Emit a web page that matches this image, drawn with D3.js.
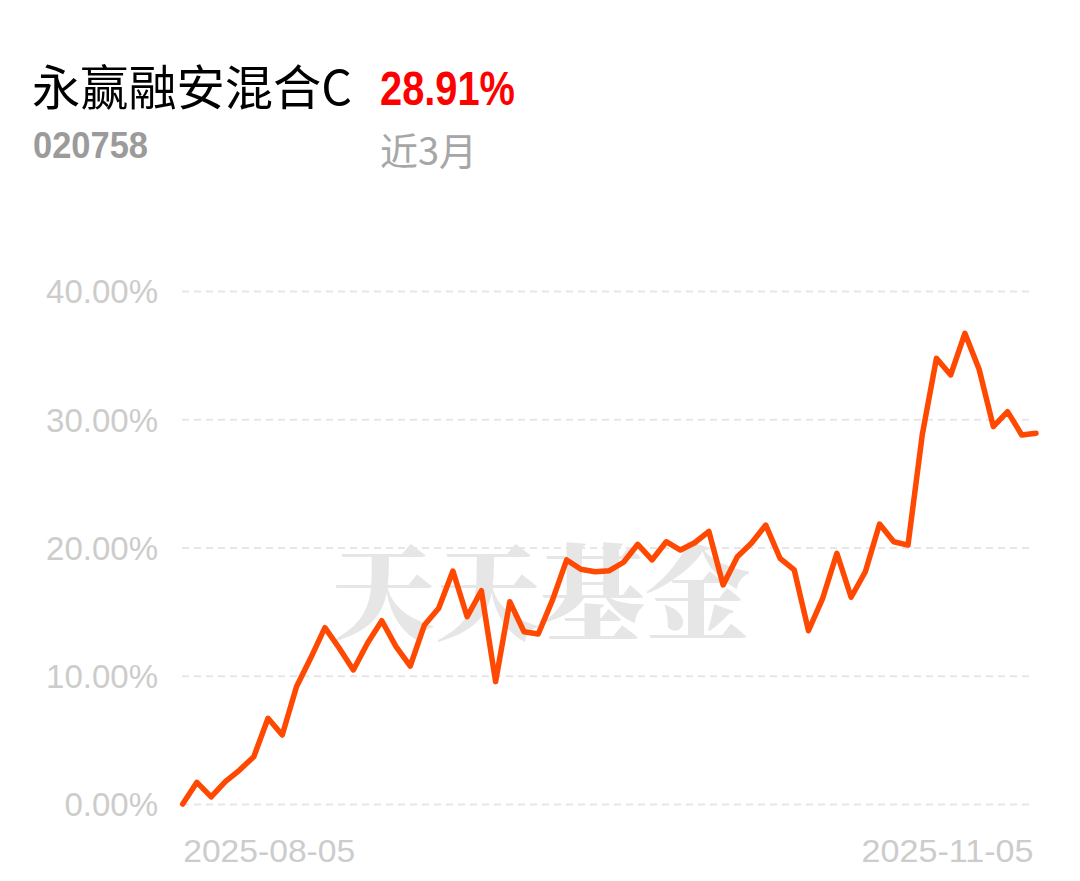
<!DOCTYPE html>
<html><head><meta charset="utf-8">
<script src="https://cdn.jsdelivr.net/npm/d3@7"></script>
<style>html,body{margin:0;padding:0;background:#fff;}svg{display:block;}</style>
</head><body>
<script>
const fundName = "永赢融安混合C";
const fundCode = "020758";
const periodReturn = "28.91%";
const periodLabel = "近3月";
const watermark = "天天基金";

const dates = [
"2025-08-05","2025-08-06","2025-08-07","2025-08-08","2025-08-11","2025-08-12","2025-08-13","2025-08-14","2025-08-15",
"2025-08-18","2025-08-19","2025-08-20","2025-08-21","2025-08-22","2025-08-25","2025-08-26","2025-08-27","2025-08-28","2025-08-29",
"2025-09-01","2025-09-02","2025-09-03","2025-09-04","2025-09-05","2025-09-08","2025-09-09","2025-09-10","2025-09-11","2025-09-12",
"2025-09-15","2025-09-16","2025-09-17","2025-09-18","2025-09-19","2025-09-22","2025-09-23","2025-09-24","2025-09-25","2025-09-26",
"2025-09-29","2025-09-30","2025-10-09","2025-10-10","2025-10-13","2025-10-14","2025-10-15","2025-10-16","2025-10-17",
"2025-10-20","2025-10-21","2025-10-22","2025-10-23","2025-10-24","2025-10-27","2025-10-28","2025-10-29","2025-10-30","2025-10-31",
"2025-11-03","2025-11-04","2025-11-05"];

const returns = [
0.00,1.69,0.55,1.74,2.65,3.69,6.68,5.38,9.15,11.38,13.75,12.16,10.45,12.55,14.29,12.27,10.76,13.96,15.26,18.17,
14.60,16.63,9.54,15.77,13.43,13.26,15.90,19.03,18.30,18.11,18.19,18.85,20.25,19.03,20.45,19.80,20.37,21.25,17.08,19.28,
20.35,21.75,19.16,18.25,13.51,16.04,19.55,16.12,18.11,21.83,20.45,20.19,28.77,34.75,33.45,36.70,33.90,29.42,30.59,28.77,28.91];

const yTicks = [0, 10, 20, 30, 40];
const xTickLabels = ["2025-08-05", "2025-11-05"];

const W = 1080, H = 881;
const svg = d3.select("body").append("svg").attr("width", W).attr("height", H);

const x = d3.scalePoint().domain(dates).range([182.7, 1036]);
const y = d3.scaleLinear().domain([0, 40]).range([804, 291]);

// Title block
svg.append("text").attr("x", 32).attr("y", 105).text(fundName)
  .attr("font-family", "'Noto Sans CJK SC', sans-serif").attr("font-size", 48).attr("fill", "#000")
  .attr("textLength", 320).attr("lengthAdjust", "spacingAndGlyphs");
svg.append("text").attr("x", 380).attr("y", 105).text(periodReturn)
  .attr("font-family", "'Liberation Sans', Arial, sans-serif").attr("font-weight", "bold")
  .attr("font-size", 48).attr("fill", "#ff0000")
  .attr("textLength", 135).attr("lengthAdjust", "spacingAndGlyphs");
svg.append("text").attr("x", 33).attr("y", 158).text(fundCode)
  .attr("font-family", "'Liberation Sans', Arial, sans-serif").attr("font-weight", "bold")
  .attr("font-size", 37).attr("fill", "#9b9b9b")
  .attr("textLength", 115).attr("lengthAdjust", "spacingAndGlyphs");
svg.append("text").attr("x", 380).attr("y", 165).text(periodLabel)
  .attr("font-family", "'Noto Sans CJK SC', sans-serif").attr("font-size", 38).attr("fill", "#a6a6a6");

// Watermark
svg.append("text").attr("x", 540).attr("y", 632).attr("text-anchor", "middle").text(watermark)
  .attr("font-family", "'Noto Serif CJK SC', 'Noto Sans CJK SC', serif").attr("font-weight", 900)
  .attr("font-size", 104).attr("fill", "#e6e6e6")
  .attr("textLength", 420).attr("lengthAdjust", "spacingAndGlyphs");

// Grid
const yAxis = d3.axisLeft(y).tickValues(yTicks).tickSize(-(1030 - 182)).tickPadding(24)
  .tickFormat(d => d3.format(".2f")(d) + "%");
const gy = svg.append("g").attr("transform", "translate(182,0)").call(yAxis);
gy.select(".domain").remove();
gy.selectAll(".tick line").attr("stroke", "#e6e6e6").attr("stroke-width", 2).attr("stroke-dasharray", "7,5");
gy.selectAll(".tick text").attr("font-family", "'Liberation Sans', Arial, sans-serif")
  .attr("font-size", 33).attr("fill", "#cccccc").attr("dy", "0.36em");

// X labels
const xAxis = d3.axisBottom(x).tickValues(xTickLabels).tickSize(0).tickPadding(0);
const gx = svg.append("g").attr("transform", "translate(0,862)").call(xAxis);
gx.select(".domain").remove();
gx.selectAll(".tick text").attr("font-family", "'Liberation Sans', Arial, sans-serif")
  .attr("font-size", 32).attr("fill", "#cccccc").attr("dy", 0)
  .attr("text-anchor", (d, i) => i === 0 ? "start" : "end")
  .attr("dx", (d, i) => i === 0 ? 0 : -3)
  .attr("textLength", 172).attr("lengthAdjust", "spacingAndGlyphs");

// Line
const line = d3.line().x((d, i) => x(dates[i])).y(d => y(d));
svg.append("path").datum(returns).attr("d", line).attr("fill", "none")
  .attr("stroke", "#ff4800").attr("stroke-width", 5.5)
  .attr("stroke-linejoin", "round").attr("stroke-linecap", "round");
</script>
</body></html>
